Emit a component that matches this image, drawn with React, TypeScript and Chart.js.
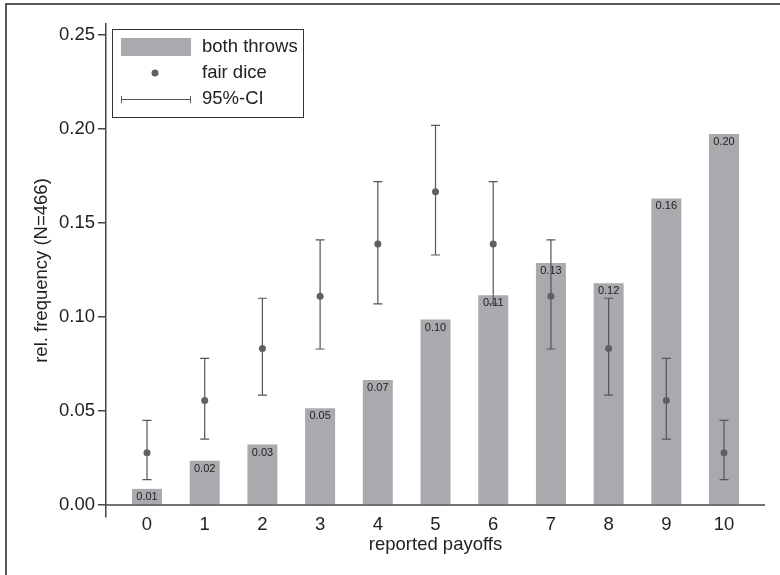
import React, { useEffect, useRef } from "react";
import { Chart, registerables } from "chart.js";

Chart.register(...registerables);

const payoffs = [0, 1, 2, 3, 4, 5, 6, 7, 8, 9, 10];
const bothThrows = [0.0086, 0.0236, 0.0322, 0.0515, 0.0665, 0.0987, 0.1116, 0.1288, 0.118, 0.1631, 0.1974];
const fairDice = [0.0278, 0.0556, 0.0833, 0.1111, 0.1389, 0.1667, 0.1389, 0.1111, 0.0833, 0.0556, 0.0278];
const ciLow = [0.0135, 0.035, 0.0585, 0.083, 0.107, 0.133, 0.107, 0.083, 0.0585, 0.035, 0.0135];
const ciHigh = [0.045, 0.078, 0.11, 0.141, 0.172, 0.202, 0.172, 0.141, 0.11, 0.078, 0.045];
const yTicks = [0, 0.05, 0.1, 0.15, 0.2, 0.25];
const legendLabels = ["both throws", "fair dice", "95%-CI"];

const FONT = "'Liberation Sans', Arial, Helvetica, sans-serif";
const BAR_COLOR = "#a9aaad";
const DOT_COLOR = "#606060";
const LINE_COLOR = "#555555";
const AXIS_COLOR = "#444444";
const TEXT_COLOR = "#222222";

export default function App() {
  const ref = useRef<HTMLCanvasElement>(null);

  useEffect(() => {
    const canvas = ref.current!;
    const decor = {
      id: "decor",
      afterDatasetDraw(chart: any, args: any) {
        if (args.index !== 0) return;
        const { ctx } = chart;
        const xs = chart.scales.x;
        const ys = chart.scales.y;
        ctx.save();
        // x axis line at y = 0
        const y0 = ys.getPixelForValue(0);
        ctx.strokeStyle = AXIS_COLOR;
        ctx.lineWidth = 1.5;
        ctx.beginPath();
        ctx.moveTo(chart.chartArea.left, y0);
        ctx.lineTo(chart.chartArea.right, y0);
        ctx.stroke();
        // bar value labels
        ctx.font = `11px ${FONT}`;
        ctx.fillStyle = TEXT_COLOR;
        ctx.textAlign = "center";
        ctx.textBaseline = "middle";
        const meta = chart.getDatasetMeta(0);
        meta.data.forEach((el: any, i: number) => {
          ctx.fillText(bothThrows[i].toFixed(2), el.x, el.y + 8);
        });
        // error bars
        ctx.strokeStyle = LINE_COLOR;
        ctx.lineWidth = 1.2;
        payoffs.forEach((p, i) => {
          const x = xs.getPixelForValue(p);
          const yl = ys.getPixelForValue(ciLow[i]);
          const yh = ys.getPixelForValue(ciHigh[i]);
          ctx.beginPath();
          ctx.moveTo(x, yl);
          ctx.lineTo(x, yh);
          ctx.moveTo(x - 4.5, yl);
          ctx.lineTo(x + 4.5, yl);
          ctx.moveTo(x - 4.5, yh);
          ctx.lineTo(x + 4.5, yh);
          ctx.stroke();
        });
        ctx.restore();
      },
      afterDraw(chart: any) {
        const { ctx } = chart;
        ctx.save();
        // outer frame (top and left)
        ctx.strokeStyle = "#222222";
        ctx.lineWidth = 1.5;
        ctx.beginPath();
        ctx.moveTo(6, 575);
        ctx.lineTo(6, 4);
        ctx.lineTo(780, 4);
        ctx.stroke();
        // legend
        ctx.strokeStyle = "#333333";
        ctx.lineWidth = 1;
        ctx.fillStyle = "#ffffff";
        ctx.fillRect(112.5, 29.5, 191, 88);
        ctx.strokeRect(112.5, 29.5, 191, 88);
        ctx.fillStyle = BAR_COLOR;
        ctx.fillRect(121, 38, 70, 18);
        ctx.fillStyle = DOT_COLOR;
        ctx.beginPath();
        ctx.arc(155, 73, 3.5, 0, Math.PI * 2);
        ctx.fill();
        ctx.strokeStyle = LINE_COLOR;
        ctx.lineWidth = 1;
        ctx.beginPath();
        ctx.moveTo(121, 99.5);
        ctx.lineTo(191, 99.5);
        ctx.moveTo(121.5, 96);
        ctx.lineTo(121.5, 103);
        ctx.moveTo(190.5, 96);
        ctx.lineTo(190.5, 103);
        ctx.stroke();
        ctx.fillStyle = TEXT_COLOR;
        ctx.font = `18.5px ${FONT}`;
        ctx.textAlign = "left";
        ctx.textBaseline = "middle";
        ctx.fillText(legendLabels[0], 202, 47);
        ctx.fillText(legendLabels[1], 202, 73);
        ctx.fillText(legendLabels[2], 202, 99);
        ctx.restore();
      },
    };

    const chart = new Chart(canvas, {
      type: "bar",
      data: {
        datasets: [
          {
            type: "bar",
            label: legendLabels[0],
            data: payoffs.map((p, i) => ({ x: p, y: bothThrows[i] })),
            backgroundColor: BAR_COLOR,
            borderWidth: 0,
            barPercentage: 0.65,
            categoryPercentage: 0.8,
            order: 2,
          } as any,
          {
            type: "scatter",
            label: legendLabels[1],
            data: payoffs.map((p, i) => ({ x: p, y: fairDice[i] })),
            backgroundColor: DOT_COLOR,
            borderColor: DOT_COLOR,
            pointRadius: 3.5,
            borderWidth: 0,
            order: 1,
          } as any,
        ],
      },
      options: {
        responsive: false,
        animation: false,
        layout: { padding: { top: 24, right: 15, left: 0, bottom: 0 } },
        plugins: {
          legend: { display: false },
          tooltip: { enabled: false },
        },
        scales: {
          x: {
            type: "linear",
            offset: false,
            min: -0.7106,
            max: 10.71,
            afterBuildTicks: (axis: any) => {
              axis.ticks = payoffs.map((v) => ({ value: v }));
            },
            afterFit: (scale: any) => {
              scale.height = 58;
            },
            grid: { display: false, drawTicks: false, offset: false },
            border: { display: false },
            ticks: {
              color: TEXT_COLOR,
              font: { family: FONT, size: 18.5 },
              padding: -3,
              maxRotation: 0,
              autoSkip: false,
              callback: (v: any) => String(v),
            },
            title: {
              display: true,
              text: "reported payoffs",
              color: TEXT_COLOR,
              font: { family: FONT, size: 18.5 },
              padding: { top: 0, bottom: 19 },
            },
          },
          y: {
            type: "linear",
            min: -0.00638,
            max: 0.2559,
            afterBuildTicks: (axis: any) => {
              axis.ticks = yTicks.map((v) => ({ value: v }));
            },
            afterFit: (scale: any) => {
              scale.width = 106;
            },
            grid: {
              drawOnChartArea: false,
              drawTicks: true,
              tickLength: 8,
              color: AXIS_COLOR,
              lineWidth: 1.5,
            },
            border: { display: true, color: AXIS_COLOR, width: 1.5 },
            ticks: {
              color: TEXT_COLOR,
              font: { family: FONT, size: 18.5 },
              padding: 3,
              callback: (v: any) => Number(v).toFixed(2),
            },
            title: {
              display: true,
              text: "rel. frequency (N=466)",
              color: TEXT_COLOR,
              font: { family: FONT, size: 18.5 },
              padding: { top: 31, bottom: 0 },
            },
          },
        },
      } as any,
      plugins: [decor],
    });
    return () => chart.destroy();
  }, []);

  return (
    <div style={{ position: "absolute", left: 0, top: 0, width: 780, height: 575, background: "#ffffff" }}>
      <canvas ref={ref} width={780} height={575} style={{ display: "block" }} />
    </div>
  );
}
